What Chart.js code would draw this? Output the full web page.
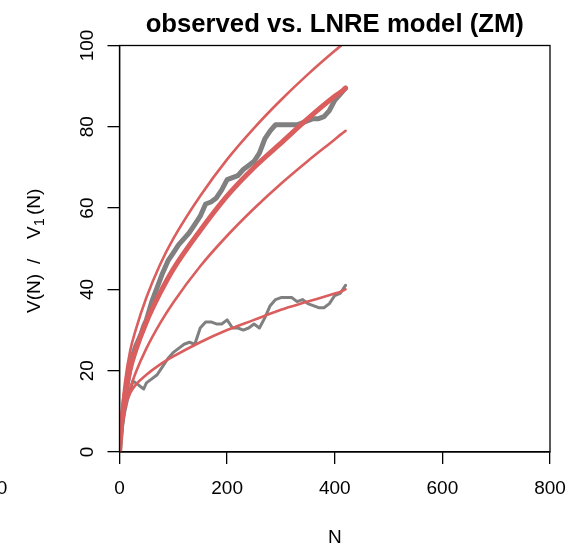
<!DOCTYPE html>
<html>
<head>
<meta charset="UTF-8">
<title>observed vs. LNRE model (ZM)</title>
<script src="https://cdn.jsdelivr.net/npm/chart.js"></script>
<style>
  html, body { margin: 0; padding: 0; background: #fff; }
  #caja { width: 572px; height: 548px; }
</style>
</head>
<body>
<div id="caja"><canvas id="grafica" width="572" height="548"></canvas></div>
<script>
// observed growth curve, V(N) and V1(N)
const nObs  = [0, 5, 10, 15, 20, 25, 30, 35, 40, 45, 50, 60, 70, 80, 90, 100, 110, 120, 130, 140, 150, 160, 170, 180, 190, 200,
               210, 220, 230, 240, 250, 260, 270, 280, 290, 300, 310, 320, 330, 340, 350, 360, 370, 380, 390, 400, 410, 420];
const vObs  = [0, 8, 13, 17, 21, 24, 26, 27.5, 29, 31, 32.5, 37, 40.5, 44, 47, 49, 51, 52.5, 54, 56, 58, 61, 61.5, 62.5, 64.5, 67,
               67.5, 68, 69.5, 70.5, 71.5, 73.5, 77, 79, 80.5, 80.5, 80.5, 80.5, 80.5, 81, 81.5, 82, 82, 82.5, 84, 86.5, 88, 89.5];
const v1Obs = [0, 6, 10, 13, 15, 17.5, 17, 16.5, 16, 15.5, 17, 18, 19, 21, 23, 24.5, 25.5, 26.5, 27, 26.5, 30.5, 32, 32, 31.5, 31.5, 32.5,
               30.5, 30.5, 30, 30.5, 31.5, 30.5, 33, 36, 37.5, 38, 38, 38, 37, 37.5, 36.5, 36, 35.5, 35.5, 36.5, 38.5, 39, 41];

// ZM model: expected V, confidence curves, expected V1
const nMod    = [0, 2, 5, 10, 20, 30, 50, 75, 100, 150, 200, 250, 300, 350, 400, 412, 420];
const vMod    = [0, 4, 8.5, 14, 20.5, 25, 32, 39, 45, 54.5, 63, 70, 76, 82, 87.5, 88.6, 89.5];
const vHigh   = [0, 5, 10.5, 17, 25, 30, 38, 46, 52.5, 63, 72, 79.7, 86.6, 92.9, 98.7, 100, 100.9];
const vLow    = [0, 3, 6.5, 10.5, 15.7, 19.5, 25.5, 31.6, 36.8, 45.7, 53.2, 59.9, 66, 71.6, 76.9, 78.2, 79];
const v1Mod   = [0, 3.5, 7, 11, 14.5, 16.5, 19, 21.5, 23.5, 27, 30, 32.5, 35, 37, 39, 39.5, 40];

const xTicks = [0, 200, 400, 600, 800];
const yTicks = [0, 20, 40, 60, 80, 100];

const rojo = "#DA5E5E";
const gris = "#808080";
const fuente = "'Liberation Sans', Arial, Helvetica, sans-serif";

function puntos(xs, ys) {
  return xs.map((x, i) => ({ x: x, y: ys[i] }));
}

const textos = {
  id: "textos",
  afterDraw(chart) {
    const ctx = chart.ctx;
    const a = chart.chartArea;
    const sx = chart.scales.x, sy = chart.scales.y;
    ctx.save();
    // caja completa
    ctx.strokeStyle = "#000";
    ctx.lineWidth = 1.3;
    ctx.strokeRect(a.left, a.top, a.right - a.left, a.bottom - a.top);

    ctx.fillStyle = "#000";
    ctx.font = "19px " + fuente;
    ctx.textAlign = "center";
    ctx.textBaseline = "middle";
    xTicks.forEach(t => ctx.fillText(String(t), sx.getPixelForValue(t), 489));
    ctx.fillText("0", 2, 489);

    ctx.textBaseline = "alphabetic";
    yTicks.forEach(t => {
      ctx.save();
      ctx.translate(93, sy.getPixelForValue(t));
      ctx.rotate(-Math.PI / 2);
      ctx.fillText(String(t), 0, 0);
      ctx.restore();
    });

    ctx.fillText("N", (a.left + a.right) / 2, 543);

    // titulo
    ctx.font = "bold 25.7px " + fuente;
    ctx.fillText("observed vs. LNRE model (ZM)", (a.left + a.right) / 2, 32);

    // etiqueta eje y con subindice
    ctx.save();
    ctx.translate(40, 0);
    ctx.rotate(-Math.PI / 2);
    ctx.textAlign = "left";
    ctx.font = "19px " + fuente;
    ctx.fillText("V(N)", -313, 0);
    ctx.fillText("/", -264, 0);
    ctx.fillText("V", -239, 0);
    ctx.fillText("(N)", -215, 0);
    ctx.font = "14px " + fuente;
    ctx.fillText("1", -226, 4);
    ctx.restore();
    ctx.restore();
  }
};

new Chart(document.getElementById("grafica"), {
  type: "line",
  data: {
    datasets: [
      { label: "V1 ZM", data: puntos(nMod, v1Mod), borderColor: rojo, borderWidth: 2.6, cubicInterpolationMode: "monotone" },
      { label: "V ZM", data: puntos(nMod, vMod), borderColor: rojo, borderWidth: 5, cubicInterpolationMode: "monotone" },
      { label: "V ZM alto", data: puntos(nMod, vHigh), borderColor: rojo, borderWidth: 2.6, cubicInterpolationMode: "monotone" },
      { label: "V ZM bajo", data: puntos(nMod, vLow), borderColor: rojo, borderWidth: 2.6, cubicInterpolationMode: "monotone" },
      { label: "V1 obs", data: puntos(nObs, v1Obs), borderColor: gris, borderWidth: 3, tension: 0 },
      { label: "V obs", data: puntos(nObs, vObs), borderColor: gris, borderWidth: 5, tension: 0 }
    ]
  },
  options: {
    responsive: false,
    animation: false,
    devicePixelRatio: 1,
    layout: { padding: { top: 45.5, right: 22, left: 0, bottom: 0 } },
    elements: {
      point: { radius: 0 },
      line: { fill: false, borderCapStyle: "round", borderJoinStyle: "round" }
    },
    plugins: { legend: { display: false }, title: { display: false }, tooltip: { enabled: false } },
    scales: {
      x: {
        type: "linear", min: 0, max: 800,
        afterFit: s => { s.height = 96; },
        ticks: { display: false, stepSize: 200 },
        afterBuildTicks: s => { s.ticks = xTicks.map(v => ({ value: v })); },
        grid: { display: true, drawOnChartArea: false, drawTicks: true, tickLength: 12, color: "#000", lineWidth: 1.3 },
        border: { display: true, color: "#000", width: 1.3 }
      },
      y: {
        type: "linear", min: 0, max: 100,
        afterFit: s => { s.width = 119.5; },
        ticks: { display: false, stepSize: 20 },
        afterBuildTicks: s => { s.ticks = yTicks.map(v => ({ value: v })); },
        grid: { display: true, drawOnChartArea: false, drawTicks: true, tickLength: 12, color: "#000", lineWidth: 1.3 },
        border: { display: true, color: "#000", width: 1.3 }
      }
    }
  },
  plugins: [textos]
});
</script>
</body>
</html>
